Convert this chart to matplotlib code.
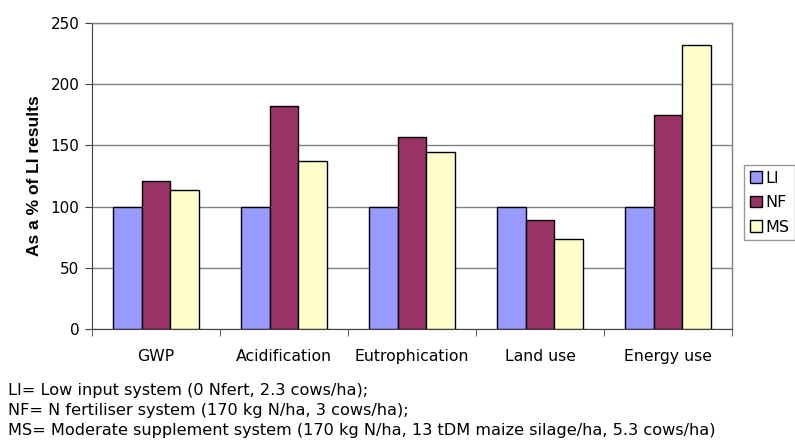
import matplotlib
matplotlib.use("Agg")
import matplotlib.pyplot as plt
import numpy as np

plt.rcParams['font.family'] = ['DejaVu Sans']

categories = ["GWP", "Acidification", "Eutrophication", "Land use", "Energy use"]
series_names = ["LI", "NF", "MS"]
li_values = [100, 100, 100, 100, 100]
nf_values = [121, 182, 157, 89, 175]
ms_values = [114, 137, 145, 74, 232]
colors = ["#9999FF", "#993366", "#FFFFCC"]
y_ticks = [0, 50, 100, 150, 200, 250]
footnotes = [
    "LI= Low input system (0 Nfert, 2.3 cows/ha);",
    "NF= N fertiliser system (170 kg N/ha, 3 cows/ha);",
    "MS= Moderate supplement system (170 kg N/ha, 13 tDM maize silage/ha, 5.3 cows/ha)",
]

fig = plt.figure(figsize=(7.95, 4.4), dpi=100)
ax = fig.add_axes([0.1157, 0.2516, 0.8051, 0.6964])

x = np.arange(len(categories))
width = 0.223
for i, (vals, col, name) in enumerate(zip([li_values, nf_values, ms_values], colors, series_names)):
    ax.bar(x + (i - 1) * width, vals, width, color=col, edgecolor="black",
           linewidth=1.0, label=name, zorder=3)

ax.set_xlim(-0.5, len(categories) - 0.5)
ax.set_ylim(0, 250)
ax.set_yticks(y_ticks)
ax.set_yticklabels([str(t) for t in y_ticks], fontsize=11)
ax.yaxis.grid(True, color="#808080", linewidth=1.0, zorder=0)

ax.set_xticks(x)
ax.set_xticklabels(categories, fontsize=11.3)
ax.tick_params(axis="x", length=0, pad=14)
ax.set_xticks(np.arange(len(categories) + 1) - 0.5, minor=True)
ax.tick_params(axis="x", which="minor", length=5, color="#404040", direction="out")
ax.tick_params(axis="y", length=5, color="#404040", direction="out", pad=4)

for side in ["top", "right"]:
    ax.spines[side].set_color("#808080")
    ax.spines[side].set_linewidth(1.0)
ax.spines["left"].set_color("#404040")
ax.spines["bottom"].set_color("#404040")

ax.set_ylabel("As a % of LI results", fontsize=12.5, fontweight="bold",
              family="Liberation Sans", labelpad=6)

leg = fig.legend(loc="upper left", bbox_to_anchor=(744 / 795, 1 - 165 / 440),
                 fontsize=11.5, frameon=True, fancybox=False, edgecolor="#808080",
                 handlelength=0.75, handleheight=0.75, handletextpad=0.25,
                 borderpad=0.35, labelspacing=0.6, borderaxespad=0)
leg.get_frame().set_linewidth(1.0)

for k, line in enumerate(footnotes):
    fig.text(8 / 795, 1 - (395 + 20 * k) / 440, line, fontsize=11.6,
             va="baseline", ha="left")

fig.savefig("out.png", dpi=100)
